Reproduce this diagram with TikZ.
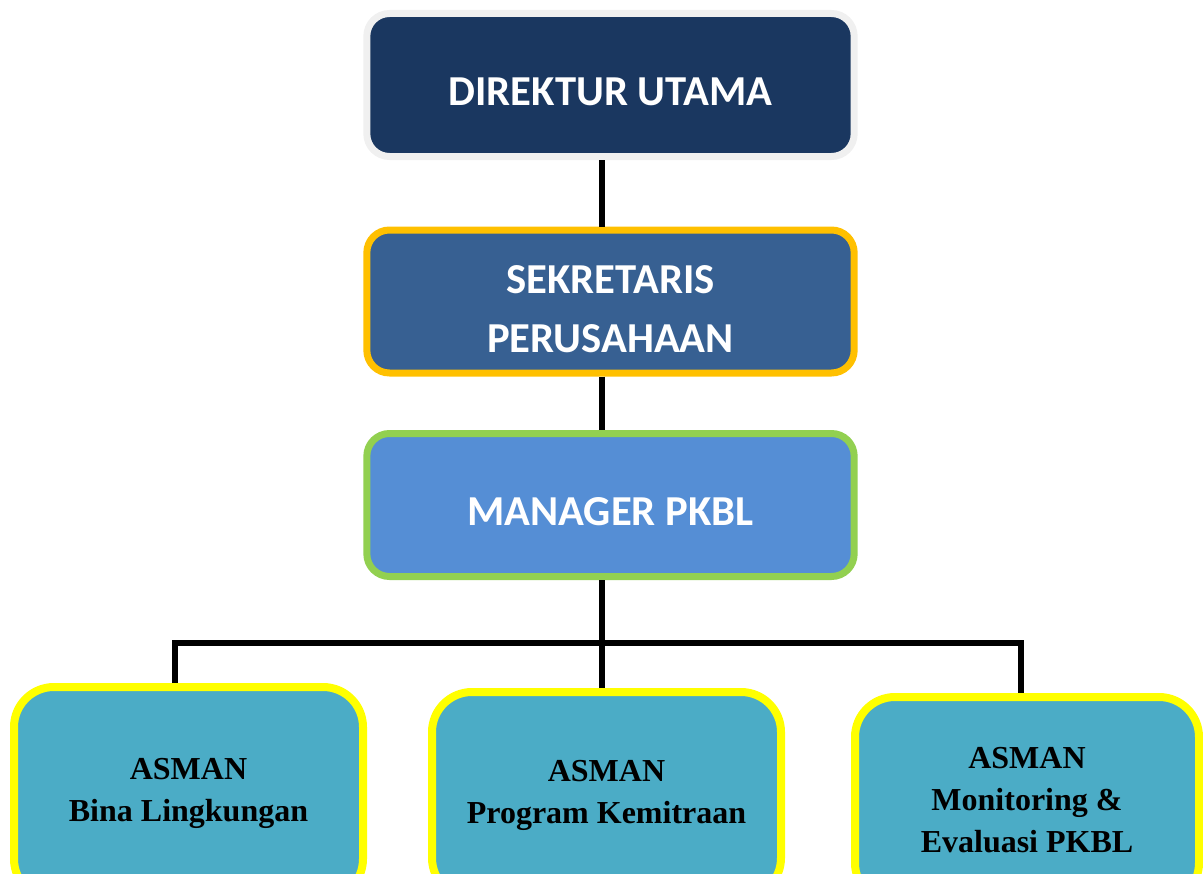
\documentclass[tikz,border=0pt]{standalone}
\usepackage{fontspec}
\setmainfont{Liberation Serif}
\newfontfamily\calibri{Carlito}
\definecolor{navy}{HTML}{1A3760}
\definecolor{sekfill}{HTML}{376092}
\definecolor{manfill}{HTML}{558ED5}
\definecolor{asmfill}{HTML}{4BACC6}
\definecolor{grayline}{HTML}{F0F0F0}
\definecolor{orangeline}{HTML}{FFC000}
\definecolor{greenline}{HTML}{92D050}
\definecolor{yellowline}{HTML}{FFFF00}
\begin{document}
\begin{tikzpicture}[x=0.75pt,y=-0.75pt,
  headbox/.style={draw, rectangle, rounded corners=17pt, line width=5.25pt,
    minimum width=365.5pt, minimum height=107.25pt},
  headtext/.style={align=center, text=white, inner sep=0pt,
    font=\calibri\bfseries\fontsize{32}{44}\selectfont},
  asmbox/.style={draw=yellowline, fill=asmfill, rectangle, rounded corners=30pt, line width=6pt,
    align=center, text=black,
    font=\bfseries\fontsize{24}{31.5}\selectfont},
  conn/.style={draw=black, line width=4.5pt, line join=miter}]
\useasboundingbox (0,0) rectangle (1203,874);
\clip (0,0) rectangle (1203,874);

\node[headbox, draw=grayline, fill=navy] (dir) at (610.5,85) {};
\node[headtext] (dirtext) at ([yshift=-5.25pt]dir.center) {DIREKTUR UTAMA};
\node[headbox, draw=orangeline, fill=sekfill] (sek) at (610.5,301.5) {};
\node[headtext] (sektext) at ([yshift=-5.6pt]sek.center) {SEKRETARIS\\PERUSAHAAN};
\node[headbox, draw=greenline, fill=manfill] (man) at (610.5,505) {};
\node[headtext] (mantext) at ([yshift=-5.25pt]man.center) {MANAGER PKBL};

\node[asmbox, minimum width=261.75pt, minimum height=159pt] (b1) at (188.5,793) {ASMAN\\Bina Lingkungan};
\node[asmbox, minimum width=261.75pt, minimum height=154.5pt] (b2) at (606.5,795) {ASMAN\\Program Kemitraan};
\node[asmbox, minimum width=258pt, minimum height=154.5pt] (b3) at (1027,800) {ASMAN\\Monitoring \&\\Evaluasi PKBL};

\coordinate (trunk) at (602,0);
\coordinate (hl) at (175,643);
\coordinate (hr) at (1021,643);

\draw[conn] (dir.south -| trunk) -- (sek.north -| trunk);
\draw[conn] (sek.south -| trunk) -- (man.north -| trunk);
\draw[conn] (man.south -| trunk) -- (b2.north -| trunk);
\draw[conn] (b1.north -| hl) -- (hl) -- (hr) -- (b3.north -| hr);
\end{tikzpicture}
\end{document}
